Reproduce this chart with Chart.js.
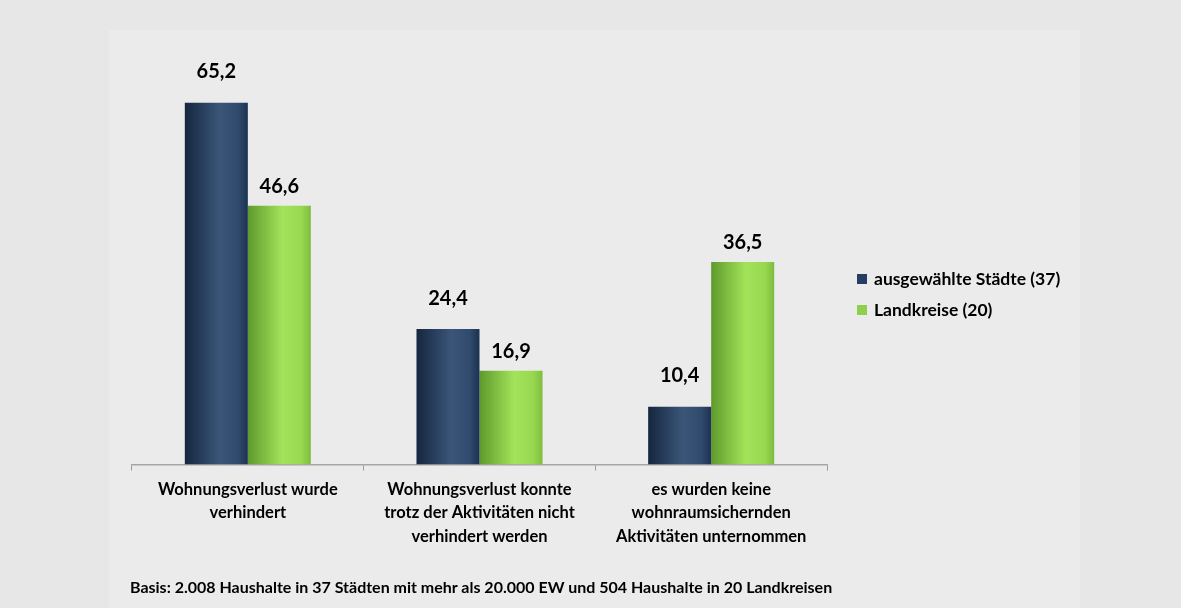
<!DOCTYPE html>
<html>
<head>
  <meta charset="utf-8">
  <title>Wohnungsverlust – Städte und Landkreise</title>
  <script src="https://cdn.jsdelivr.net/npm/chart.js"></script>
  <style>
    html, body { margin: 0; padding: 0; }
    body { width: 1181px; height: 608px; background: #e7e7e7; position: relative; overflow: hidden; font-family: Lato, "Open Sans", sans-serif; }
    #panel { position: absolute; left: 109px; top: 30px; width: 971px; height: 578px; background: #ebebeb; }
    #wrap { position: absolute; left: 0; top: 0; width: 1181px; height: 608px; }
    #note { position: absolute; left: 130px; top: 577px; font-size: 16px; font-weight: 700; color: #000; letter-spacing: 0px; white-space: nowrap; line-height: 20px; }
  </style>
</head>
<body>
  <div id="panel"></div>
  <div id="wrap"><canvas id="chart"></canvas></div>
  <div id="note">Basis: 2.008 Haushalte in 37 Städten mit mehr als 20.000 EW und 504 Haushalte in 20 Landkreisen</div>

  <script>
    // Kategorien (mehrzeilig) und Werte in %
    const categories = [
      ['Wohnungsverlust wurde', 'verhindert'],
      ['Wohnungsverlust konnte', 'trotz der Aktivitäten nicht', 'verhindert werden'],
      ['es wurden keine', 'wohnraumsichernden', 'Aktivitäten unternommen']
    ];
    const seriesNames = ['ausgewählte Städte (37)', 'Landkreise (20)'];
    const staedte = [65.2, 24.4, 10.4];
    const landkreise = [46.6, 16.9, 36.5];

    const FONT = 'Lato, "Open Sans", sans-serif';

    // Farbverläufe für die Säulen (links dunkel, Mitte hell)
    const gradientStops = [
      [[0, '#15263f'], [0.55, '#3b5679'], [0.85, '#2f4a6c'], [1, '#1c3252']],
      [[0, '#5e9a2c'], [0.55, '#a3e35a'], [0.85, '#98d851'], [1, '#7fbc3e']]
    ];
    const legendColors = ['#233d63', '#8fcf4c'];
    const labelLift = [31, 19];

    const barShading = {
      id: 'barShading',
      beforeDatasetsDraw(chart) {
        const ctx = chart.ctx;
        chart.data.datasets.forEach((ds, di) => {
          chart.getDatasetMeta(di).data.forEach(bar => {
            const left = bar.x - bar.width / 2;
            const g = ctx.createLinearGradient(left, 0, left + bar.width, 0);
            gradientStops[di].forEach(s => g.addColorStop(s[0], s[1]));
            bar.options = Object.assign({}, bar.options, { backgroundColor: g });
          });
        });
      }
    };

    const valueLabels = {
      id: 'valueLabels',
      afterDatasetsDraw(chart) {
        const ctx = chart.ctx;
        ctx.save();
        ctx.font = 'bold 20px ' + FONT;
        ctx.fillStyle = '#000';
        ctx.textAlign = 'center';
        ctx.textBaseline = 'middle';
        chart.data.datasets.forEach((ds, di) => {
          chart.getDatasetMeta(di).data.forEach((bar, i) => {
            const txt = ds.data[i].toFixed(1).replace('.', ',');
            ctx.fillText(txt, bar.x, bar.y - labelLift[di]);
          });
        });
        ctx.restore();
      }
    };

    // Legende rechts neben dem Diagramm
    const sideLegend = {
      id: 'sideLegend',
      afterDraw(chart) {
        const ctx = chart.ctx;
        const x0 = chart.chartArea.right + 30;
        const y0 = 279;
        ctx.save();
        ctx.font = 'bold 17.5px ' + FONT;
        ctx.textBaseline = 'middle';
        chart.data.datasets.forEach((ds, di) => {
          const y = y0 + di * 31;
          ctx.fillStyle = legendColors[di];
          ctx.fillRect(x0, y - 5, 10, 10);
          ctx.fillStyle = '#000';
          ctx.fillText(ds.label, x0 + 17, y);
        });
        ctx.restore();
      }
    };

    new Chart(document.getElementById('chart'), {
      type: 'bar',
      data: {
        labels: categories,
        datasets: [
          { label: seriesNames[0], data: staedte, backgroundColor: '#2c466a' },
          { label: seriesNames[1], data: landkreise, backgroundColor: '#92d050' }
        ]
      },
      options: {
        responsive: true,
        maintainAspectRatio: false,
        animation: false,
        layout: { padding: { left: 132, right: 354, top: 76, bottom: 53 } },
        datasets: { bar: { categoryPercentage: 0.544, barPercentage: 1 } },
        scales: {
          x: {
            offset: true,
            grid: { offset: true, drawOnChartArea: false, drawTicks: true, tickLength: 6, color: '#9a9a9a', lineWidth: 1 },
            border: { display: true, color: '#a6a6a6', width: 1.5 },
            ticks: { color: '#000', padding: 7, font: { family: FONT, size: 16.5, weight: 'bold', lineHeight: '23.5px' }, maxRotation: 0, autoSkip: false }
          },
          y: { display: false, min: 0, max: 70 }
        },
        plugins: {
          legend: { display: false },
          tooltip: { enabled: false }
        }
      },
      plugins: [barShading, valueLabels, sideLegend]
    });
  </script>
</body>
</html>
